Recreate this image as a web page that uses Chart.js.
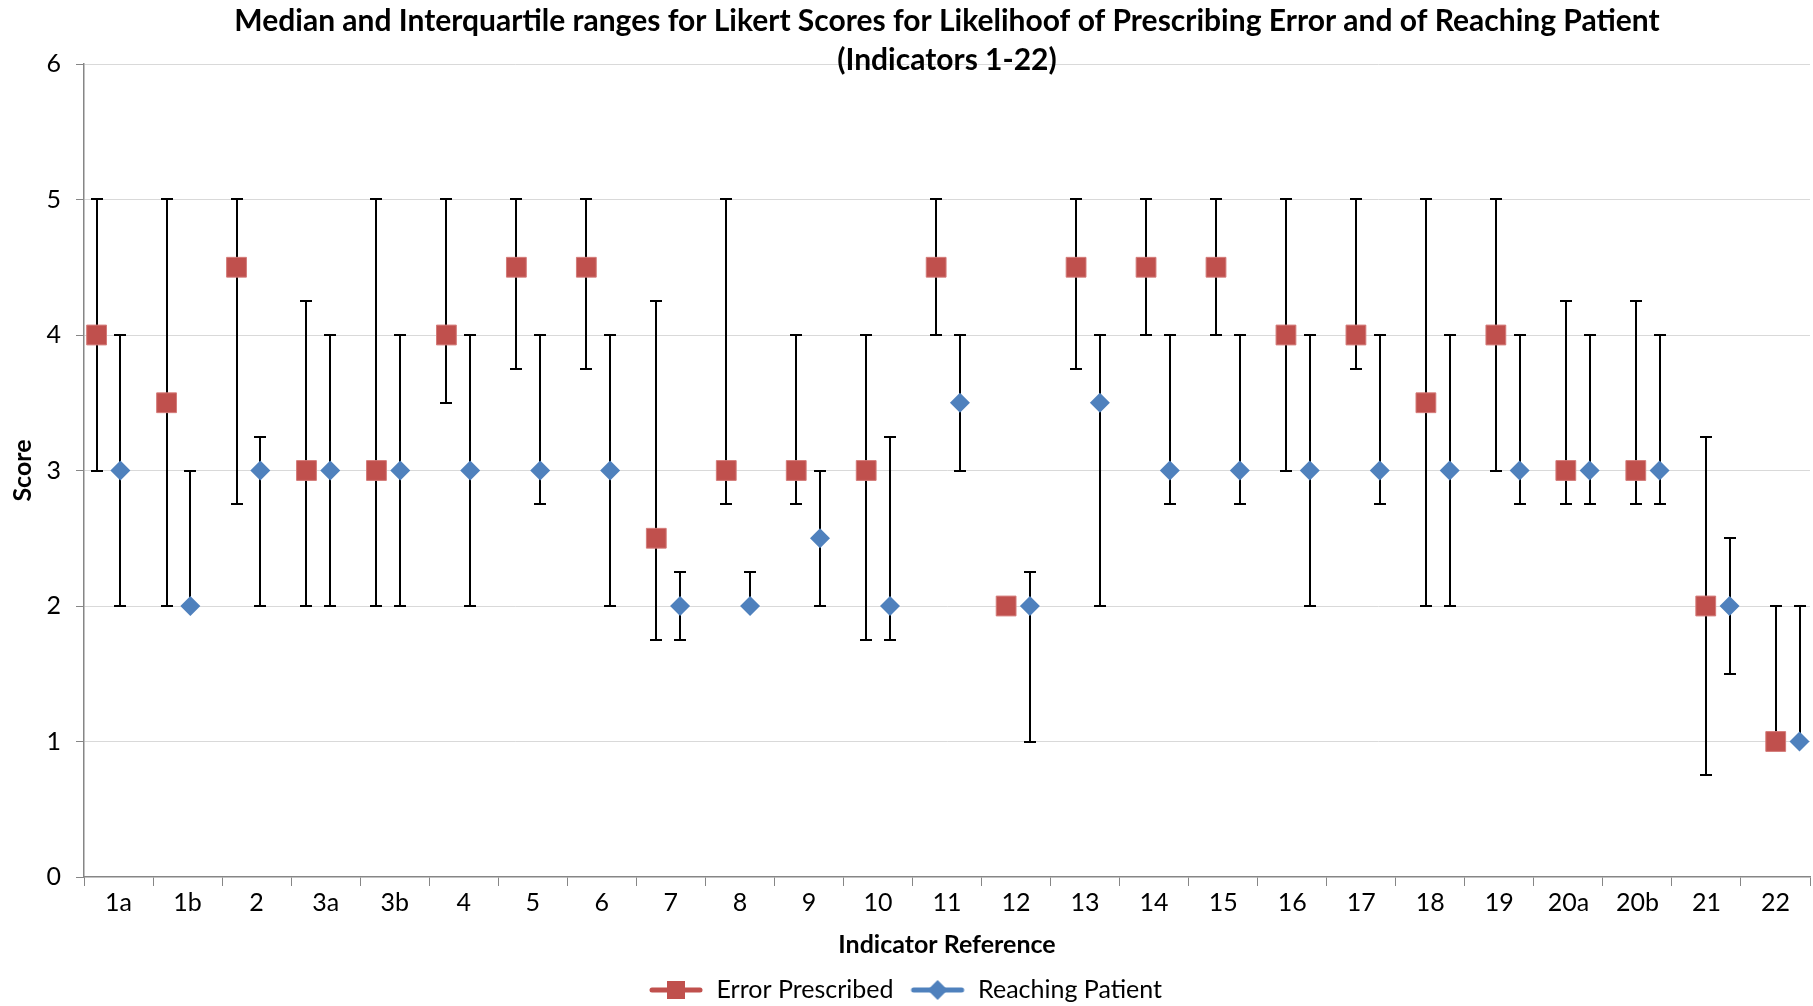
<!DOCTYPE html>
<html><head><meta charset="utf-8">
<script src="https://cdn.jsdelivr.net/npm/chart.js@4"></script>
<style>html,body{margin:0;padding:0;background:#fff;overflow:hidden;} canvas{display:block;position:absolute;left:0;top:0;}</style>
</head><body><canvas id="c" width="1813" height="1006" style="width:1813px;height:1006px"></canvas>
<script>
const categories = ['1a','1b','2','3a','3b','4','5','6','7','8','9','10','11','12','13','14','15','16','17','18','19','20a','20b','21','22'];
const errorMedian = [4,3.5,4.5,3,3,4,4.5,4.5,2.5,3,3,3,4.5,2,4.5,4.5,4.5,4,4,3.5,4,3,3,2,1];
const errorLow    = [3,2,2.75,2,2,3.5,3.75,3.75,1.75,2.75,2.75,1.75,4,2,3.75,4,4,3,3.75,2,3,2.75,2.75,0.75,1];
const errorHigh   = [5,5,5,4.25,5,5,5,5,4.25,5,4,4,5,2,5,5,5,5,5,5,5,4.25,4.25,3.25,2];
const reachMedian = [3,2,3,3,3,3,3,3,2,2,2.5,2,3.5,2,3.5,3,3,3,3,3,3,3,3,2,1];
const reachLow    = [2,2,2,2,2,2,2.75,2,1.75,2,2,1.75,3,1,2,2.75,2.75,2,2.75,2,2.75,2.75,2.75,1.5,1];
const reachHigh   = [4,3,3.25,4,4,4,4,4,2.25,2.25,3,3.25,4,2.25,4,4,4,4,4,4,4,4,4,2.5,2];
const yTicks = [0,1,2,3,4,5,6];
const seriesNames = ['Error Prescribed','Reaching Patient'];
const titleLines = ['Median and Interquartile ranges for Likert Scores for Likelihoof of Prescribing Error and of Reaching Patient','(Indicators 1-22)'];

const RED = '#C0504D', BLUE = '#4F81BD';
const reachShift = 0.34;

const errorPoints = errorMedian.map((v,i)=>({x:i, y:v}));
const reachPoints = reachMedian.map((v,i)=>({x:i+reachShift, y:v}));

function legendIcon(color, shape){
  const c = document.createElement('canvas'); c.width = 56; c.height = 22;
  const g = c.getContext('2d');
  g.strokeStyle = color; g.lineWidth = 5; g.lineCap = 'round';
  g.beginPath(); g.moveTo(4,11); g.lineTo(52,11); g.stroke();
  g.fillStyle = color;
  if (shape === 'square') { g.fillRect(19,2,18,18); }
  else { g.beginPath(); g.moveTo(28,1); g.lineTo(38,11); g.lineTo(28,21); g.lineTo(18,11); g.closePath(); g.fill(); }
  return c;
}
const icons = [legendIcon(RED,'square'), legendIcon(BLUE,'diamond')];

const errorBars = {
  id:'errorBars',
  beforeDatasetsDraw(chart){
    const ctx = chart.ctx, ys = chart.scales.y;
    ctx.save();
    ctx.strokeStyle = '#000'; ctx.lineWidth = 2;
    chart.data.datasets.forEach((ds,di)=>{
      const meta = chart.getDatasetMeta(di);
      meta.data.forEach((pt,i)=>{
        const lo = ds.errLow[i], hi = ds.errHigh[i];
        if (lo === hi) return;
        const yl = Math.round(ys.getPixelForValue(lo)), yh = Math.round(ys.getPixelForValue(hi));
        const x = Math.round(pt.x);
        ctx.beginPath();
        ctx.moveTo(x, yl); ctx.lineTo(x, yh);
        ctx.moveTo(x-6, yl); ctx.lineTo(x+6, yl);
        ctx.moveTo(x-6, yh); ctx.lineTo(x+6, yh);
        ctx.stroke();
      });
    });
    ctx.restore();
  }
};

Chart.defaults.font.family = 'Lato, "Open Sans", sans-serif';
Chart.defaults.color = '#000';

new Chart(document.getElementById('c'), {
  type:'scatter',
  data:{
    labels: categories,
    datasets:[
      {label:seriesNames[0], data:errorPoints, errLow:errorLow, errHigh:errorHigh, xAxisID:'xd', yAxisID:'y',
       pointStyle:'rect', pointRadius:14, pointHoverRadius:14, backgroundColor:RED, borderColor:'#D47A78', borderWidth:1, showLine:false},
      {label:seriesNames[1], data:reachPoints, errLow:reachLow, errHigh:reachHigh, xAxisID:'xd', yAxisID:'y',
       pointStyle:'rectRot', pointRadius:10, pointHoverRadius:10, backgroundColor:BLUE, borderColor:BLUE, borderWidth:0, showLine:false}
    ]
  },
  options:{
    responsive:false, maintainAspectRatio:false, animation:false, devicePixelRatio:1,
    layout:{autoPadding:false, padding:{left:0,right:3,top:0,bottom:-6.5}},
    plugins:{
      tooltip:{enabled:false},
      title:{display:true, text:titleLines, fullSize:false, color:'#000',
        font:{size:30, weight:'bold', lineHeight:1.3}, padding:{top:1.5,bottom:-15.5}},
      legend:{display:true, position:'bottom',
        labels:{usePointStyle:true, pointStyleWidth:56, color:'#000', font:{size:25}, padding:16,
          generateLabels(chart){
            return chart.data.datasets.map((ds,i)=>({text:ds.label, pointStyle:icons[i], fillStyle:ds.backgroundColor,
              strokeStyle:ds.backgroundColor, lineWidth:0, hidden:false, datasetIndex:i, fontColor:'#000'}));
          }}}
    },
    scales:{
      x:{type:'category', labels:categories, offset:true, position:'bottom',
        afterFit(s){ s.paddingLeft = 0; s.paddingRight = 0; },
        grid:{offset:true, drawOnChartArea:false, drawTicks:true, tickLength:9, color:'#868686'},
        border:{color:'#868686', width:1.5},
        ticks:{color:'#000', font:{size:25, lineHeight:1.2}, padding:2, maxRotation:0, autoSkip:false},
        title:{display:true, text:'Indicator Reference', color:'#000', font:{size:25, weight:'bold', lineHeight:1.0}, padding:{top:12.5,bottom:4}}},
      xd:{type:'linear', display:false, min:-0.18, max:24.49},
      y:{min:0, max:6,
        afterBuildTicks(s){ s.ticks = yTicks.map(v=>({value:v})); },
        afterFit(s){ s.width = 84; },
        ticks:{color:'#000', font:{size:25}, padding:15},
        grid:{color:(c)=> c.tick && c.tick.value === 0 ? 'rgba(0,0,0,0)' : '#d9d9d9', tickColor:'#868686', tickLength:8, lineWidth:1},
        border:{color:'#868686', width:1.5},
        title:{display:true, text:'Score', color:'#000', font:{size:25, weight:'bold', lineHeight:1.2}, padding:{top:8,bottom:0}}}
    }
  },
  plugins:[errorBars]
});
</script></body></html>
